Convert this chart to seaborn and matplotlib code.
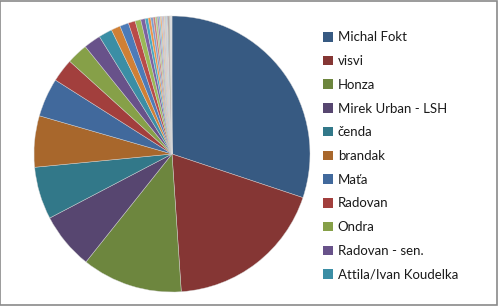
import matplotlib
matplotlib.use("Agg")
import matplotlib.pyplot as plt
import seaborn as sns
from matplotlib.patches import Rectangle, Patch

sns.set_theme(style="white")
plt.rcParams['font.family'] = ['Lato', 'DejaVu Sans']

labels = ["Michal Fokt", "visvi", "Honza", "Mirek Urban - LSH", "čenda", "brandak",
          "Maťa", "Radovan", "Ondra", "Radovan - sen.", "Attila/Ivan Koudelka"]
# values (estimated shares, in degrees of the pie)
values_named = [108.4, 67.7, 42.4, 23.8, 22.1, 21.6, 16.3, 9.8, 8.9, 7.2, 5.7]
values_other = [3.9, 3.7, 2.9, 2.4, 1.8, 1.3, 1.1, 1.0, 0.9, 0.8, 0.7, 0.6, 0.6,
                0.5, 0.5, 0.4, 0.4, 0.4, 0.3, 0.3, 0.3, 0.3, 0.3, 0.2, 0.2, 0.2]
values = values_named + values_other

base = [
    ["#375A82", "#853634", "#6D863E", "#574670", "#327889", "#A8672C"],
    ["#41699C", "#A23F3D", "#86A048", "#68528A", "#3B8EA5", "#D08035"],
    ["#4C7BB8", "#BA4B48", "#9BB956", "#7D62A0", "#48A8C2", "#EE9445"],
    ["#7F9FCE", "#CE7F7D", "#B5CC85", "#9E88BA", "#7FC0D4", "#F7AE70"],
    ["#A9BEDF", "#DFA9A8", "#CCDCAE", "#BDAFD1", "#A9D4E2", "#FAC7A0"],
]
palette = [c for row in base for c in row]
colors = [palette[i % len(palette)] for i in range(len(values))]
# last few slices render as very pale grey
colors[-4:] = ["#DCDCE4", "#E4E4EA", "#D0D0D8", "#EEEEF2"]

W, H = 498, 306
fig = plt.figure(figsize=(W / 100, H / 100), dpi=100)
cx, cy, r = 172, 154, 138
ax = fig.add_axes([(cx - r) / W, (H - cy - r) / H, 2 * r / W, 2 * r / H])
wedges, _ = ax.pie(values, colors=colors, startangle=90, counterclock=False,
                   wedgeprops=dict(edgecolor=(0.85, 0.85, 0.85, 0.7), linewidth=0.4))
ax.set_xlim(-1, 1)
ax.set_ylim(-1, 1)
ax.set_aspect('equal')
ax.axis('off')

handles = [Patch(facecolor=colors[i], edgecolor='none') for i in range(len(labels))]
leg = fig.legend(handles, labels, loc='upper left',
                 bbox_to_anchor=(318 / W, 1 - 26 / H), frameon=False,
                 fontsize=9.5, handlelength=0.75, handleheight=0.75,
                 handletextpad=0.35, labelspacing=0.89, borderaxespad=0)
for t in leg.get_texts():
    t.set_color("#1a1a1a")

fig.patches.append(Rectangle((0.001, 0.002), 0.997, 0.996, transform=fig.transFigure,
                             fill=False, edgecolor="#8a8a8a", linewidth=1.2))
fig.savefig("out.png", dpi=100, facecolor="white")
